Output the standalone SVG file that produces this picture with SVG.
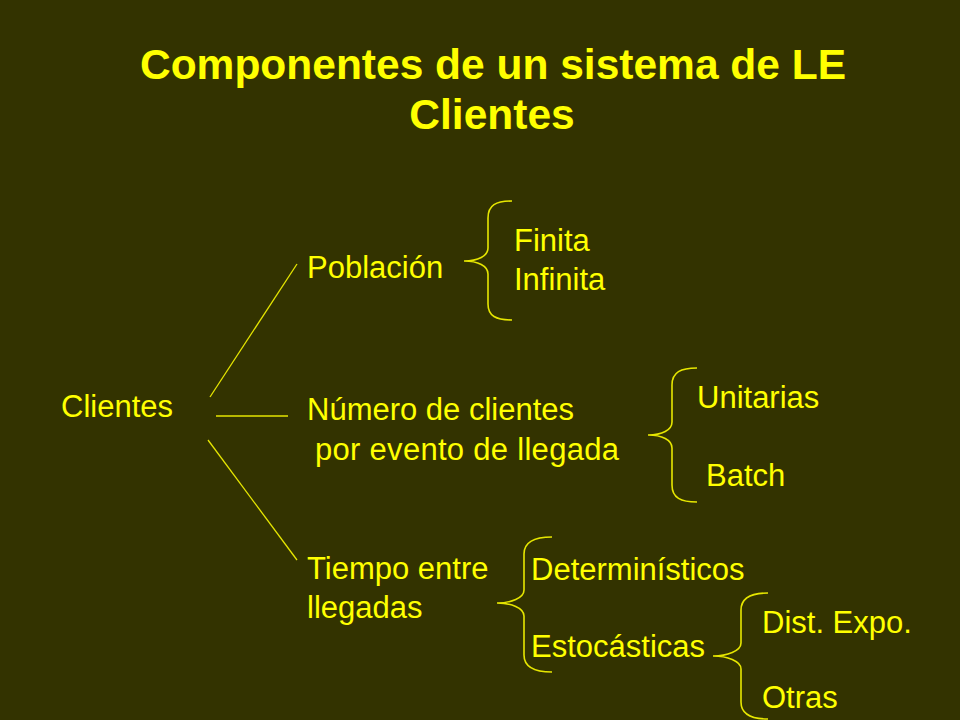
<svg xmlns="http://www.w3.org/2000/svg" width="960" height="720" viewBox="0 0 960 720">
<style>
.bg{fill:#333300}
.t{font-family:"Liberation Sans",Arial,sans-serif;fill:#FFFF00}
.title{font-size:42.5px;font-weight:bold;text-anchor:middle}
.lbl{font-size:31px}
.ln{stroke:#E6E600;stroke-width:1.3;fill:none}
.br{stroke:#E6E600;stroke-width:1.6;fill:none}
</style>
<rect class="bg" x="0" y="0" width="960" height="720"/>
<g id="title">
<text class="t title" x="493" y="79">Componentes de un sistema de LE</text>
<text class="t title" x="492" y="129">Clientes</text>
</g>
<g id="connectors">
<line class="ln" x1="210" y1="397" x2="297" y2="264"/>
<line class="ln" x1="216" y1="416" x2="288" y2="416"/>
<line class="ln" x1="208" y1="440" x2="297" y2="560"/>
<path class="br" d="M512,201 C496,201 488,205 488,218 L488,248 C488,256 478,261 464,261 C478,261 488,266 488,274 L488,304 C488,316 496,320 512,320"/>
<path class="br" d="M697,368 C681,368 672,372 672,385 L672,422 C672,430 662,435 648,435 C662,435 672,440 672,448 L672,485 C672,498 681,502 697,502"/>
<path class="br" d="M552,537 C536,537 524,541 524,554 L524,590 C524,598 511,603 497,603 C511,603 524,608 524,616 L524,655 C524,668 536,672 552,672"/>
<path class="br" d="M768,593 C752,593 741,597 741,610 L741,643 C741,651 727,656 713,656 C727,656 741,661 741,669 L741,702 C741,715 752,719 768,719"/>
</g>
<g id="node-clientes"><text class="t lbl" x="61" y="417">Clientes</text></g>
<g id="node-poblacion"><text class="t lbl" x="307" y="278">Población</text></g>
<g id="node-finita"><text class="t lbl" x="514" y="251">Finita</text><text class="t lbl" x="514" y="290">Infinita</text></g>
<g id="node-numero"><text class="t lbl" x="307" y="420">Número de clientes</text><text class="t lbl" x="315" y="460" textLength="304">por evento de llegada</text></g>
<g id="node-unitarias"><text class="t lbl" x="697" y="408">Unitarias</text></g>
<g id="node-batch"><text class="t lbl" x="706" y="486">Batch</text></g>
<g id="node-tiempo"><text class="t lbl" x="307" y="579">Tiempo entre</text><text class="t lbl" x="307" y="618">llegadas</text></g>
<g id="node-deterministicos"><text class="t lbl" x="531" y="580">Determinísticos</text></g>
<g id="node-estocasticas"><text class="t lbl" x="531" y="657">Estocásticas</text></g>
<g id="node-distexpo"><text class="t lbl" x="762" y="633">Dist. Expo.</text></g>
<g id="node-otras"><text class="t lbl" x="762" y="708">Otras</text></g>
</svg>
